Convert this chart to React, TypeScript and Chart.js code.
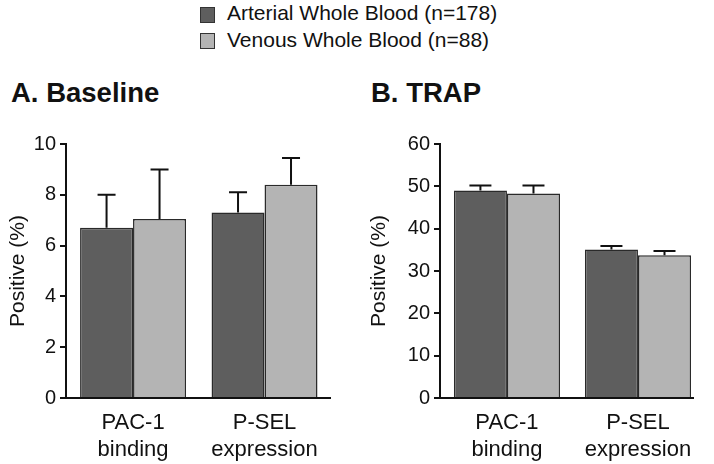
import React, { useEffect, useRef } from 'react';
import { Chart, registerables } from 'chart.js';

Chart.register(...registerables);

// ---- Data ----
const categories = [['PAC-1', 'binding'], ['P-SEL', 'expression']];
const seriesNames = ['Arterial Whole Blood (n=178)', 'Venous Whole Blood (n=88)'];

const baselineArterial = [6.7, 7.3];
const baselineArterialErr = [1.3, 0.8];
const baselineVenous = [7.05, 8.4];
const baselineVenousErr = [1.95, 1.05];
const baselineTicks = [0, 2, 4, 6, 8, 10];

const trapArterial = [49.0, 35.1];
const trapArterialErr = [1.2, 0.8];
const trapVenous = [48.3, 33.7];
const trapVenousErr = [1.9, 1.0];
const trapTicks = [0, 10, 20, 30, 40, 50, 60];

const DARK = '#5e5e5e';
const LIGHT = '#b4b4b4';
const INK = '#111111';
const FONT = '"Liberation Sans", Arial, Helvetica, sans-serif';

const errorBarPlugin = {
  id: 'errorBars',
  afterDatasetsDraw(chart: any, _args: any, opts: any) {
    const ctx = chart.ctx;
    const yScale = chart.scales.y;
    const cap = opts.cap || 18;
    chart.data.datasets.forEach((ds: any, di: number) => {
      const meta = chart.getDatasetMeta(di);
      meta.data.forEach((bar: any, i: number) => {
        const v = ds.data[i].y;
        const e = ds.errors[i];
        const x = bar.x;
        const y0 = yScale.getPixelForValue(v);
        const y1 = yScale.getPixelForValue(v + e);
        ctx.save();
        ctx.strokeStyle = INK;
        ctx.lineWidth = 2;
        ctx.beginPath();
        ctx.moveTo(x, y0);
        ctx.lineTo(x, y1);
        ctx.moveTo(x - cap / 2, y1);
        ctx.lineTo(x + cap / 2, y1);
        ctx.stroke();
        ctx.restore();
      });
    });
  },
};

type PanelProps = {
  left: number;
  arterial: number[];
  arterialErr: number[];
  venous: number[];
  venousErr: number[];
  ticks: number[];
  xMin: number;
  xMax: number;
  axisWidth: number;
  padRight: number;
  titlePad: number;
  cap: number;
  catPct: number;
};

function Panel(p: PanelProps) {
  const ref = useRef<HTMLCanvasElement>(null);
  useEffect(() => {
    if (!ref.current) return;
    const tickFont = { family: FONT, size: 20 };
    const chart = new Chart(ref.current, {
      type: 'bar',
      data: {
        datasets: [
          {
            label: seriesNames[0],
            data: p.arterial.map((v, i) => ({ x: i, y: v })),
            errors: p.arterialErr,
            backgroundColor: DARK,
            borderColor: '#2a2a2a',
            borderWidth: 1.5,
            categoryPercentage: p.catPct,
            barPercentage: 1,
          } as any,
          {
            label: seriesNames[1],
            data: p.venous.map((v, i) => ({ x: i, y: v })),
            errors: p.venousErr,
            backgroundColor: LIGHT,
            borderColor: '#2a2a2a',
            borderWidth: 1.5,
            categoryPercentage: p.catPct,
            barPercentage: 1,
          } as any,
        ],
      },
      options: {
        responsive: false,
        animation: false,
        layout: { padding: { top: 144, right: p.padRight, left: 0, bottom: 0 } },
        plugins: {
          legend: { display: false },
          tooltip: { enabled: false },
          title: { display: false },
          errorBars: { cap: p.cap },
        } as any,
        scales: {
          x: {
            type: 'linear',
            min: p.xMin,
            max: p.xMax,
            offset: false,
            afterBuildTicks: (s: any) => {
              s.ticks = categories.map((_, i) => ({ value: i }));
            },
            afterFit: (s: any) => {
              s.height = 66;
            },
            ticks: {
              callback: (v: any) => categories[v] ?? '',
              color: INK,
              font: { family: FONT, size: 22, lineHeight: 1.2 },
              padding: 12,
              maxRotation: 0,
              autoSkip: false,
            },
            grid: { display: false, drawTicks: false },
            border: { display: true, color: INK, width: 2 },
          },
          y: {
            min: 0,
            max: p.ticks[p.ticks.length - 1],
            afterBuildTicks: (s: any) => {
              s.ticks = p.ticks.map((v) => ({ value: v }));
            },
            afterFit: (s: any) => {
              s.width = p.axisWidth;
            },
            ticks: { color: INK, font: tickFont, padding: 4 },
            grid: {
              display: true,
              drawOnChartArea: false,
              drawTicks: true,
              tickLength: 6,
              color: INK,
              lineWidth: 2,
            },
            border: { display: true, color: INK, width: 2 },
            title: {
              display: true,
              text: 'Positive (%)',
              color: INK,
              font: { family: FONT, size: 21 },
              padding: { top: p.titlePad, bottom: 0 },
            },
          },
        } as any,
      },
      plugins: [errorBarPlugin],
    });
    return () => chart.destroy();
  }, []);
  return (
    <canvas
      ref={ref}
      width={357}
      height={464}
      style={{ position: 'absolute', left: p.left, top: 0, width: 357, height: 464 }}
    />
  );
}

export default function App() {
  const textStyle: React.CSSProperties = {
    position: 'absolute',
    fontFamily: FONT,
    color: INK,
    whiteSpace: 'nowrap',
  };
  const box = (top: number, color: string): React.CSSProperties => ({
    position: 'absolute',
    left: 200,
    top,
    width: 13,
    height: 14,
    background: color,
    border: '1px solid #333',
  });
  return (
    <div style={{ position: 'absolute', left: 0, top: 0, width: 714, height: 464, background: '#fff', overflow: 'hidden' }}>
      <div style={box(7, DARK)} />
      <div style={{ ...textStyle, left: 227, top: 1, fontSize: 21, lineHeight: '24px' }}>{seriesNames[0]}</div>
      <div style={box(33, LIGHT)} />
      <div style={{ ...textStyle, left: 227, top: 28, fontSize: 21, lineHeight: '24px' }}>{seriesNames[1]}</div>
      <div style={{ ...textStyle, left: 11, top: 78, fontSize: 27.5, fontWeight: 'bold', lineHeight: '30px' }}>A. Baseline</div>
      <div style={{ ...textStyle, left: 371, top: 78, fontSize: 27.5, fontWeight: 'bold', lineHeight: '30px' }}>B. TRAP</div>
      <Panel
        left={0}
        arterial={baselineArterial}
        arterialErr={baselineArterialErr}
        venous={baselineVenous}
        venousErr={baselineVenousErr}
        ticks={baselineTicks}
        xMin={-0.51}
        xMax={1.498}
        axisWidth={66}
        padRight={27}
        titlePad={6}
        cap={18}
        catPct={0.806}
      />
      <Panel
        left={357}
        arterial={trapArterial}
        arterialErr={trapArterialErr}
        venous={trapVenous}
        venousErr={trapVenousErr}
        ticks={trapTicks}
        xMin={-0.511}
        xMax={1.42}
        axisWidth={83}
        padRight={21}
        titlePad={10}
        cap={22}
        catPct={0.81}
      />
    </div>
  );
}
